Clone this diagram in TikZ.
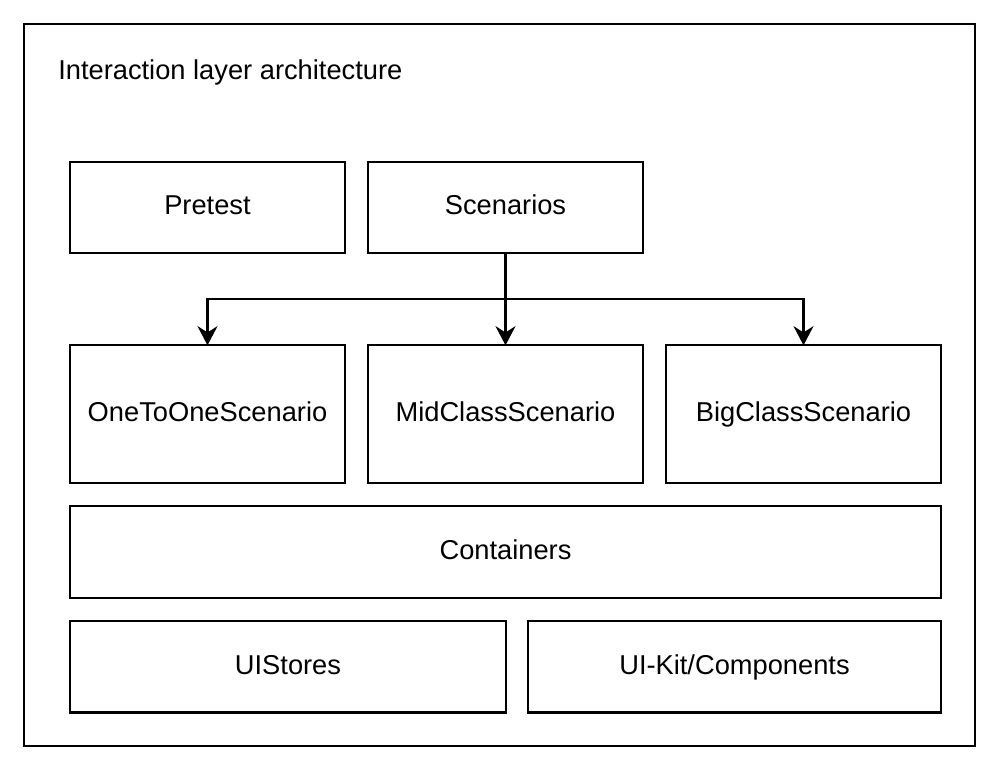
\documentclass[tikz,border=0pt]{standalone}
\usepackage{fontspec}
\setmainfont{Liberation Sans}
\usetikzlibrary{positioning,arrows.meta}

\tikzset{
  caja/.style={draw, line width=1.5pt, minimum width=6.875cm, minimum height=2.29cm,
    inner sep=0pt, outer sep=0pt, text height=1.05em, text depth=0em,
    font=\fontsize{19.4}{23}\selectfont},
  alta/.style={caja, minimum height=3.45cm},
  flecha/.style={line width=1.5pt, -{Stealth[length=0.48cm, width=0.5cm, inset=0.16cm]}}
}

\begin{document}
\begin{tikzpicture}
  \useasboundingbox (0,0) rectangle (25,-19.275);
  % Marco
  \draw[line width=1.5pt] (0.6,-0.6) rectangle (24.375,-18.65);
  \node[anchor=west, inner sep=0pt, font=\fontsize{19.4}{23}\selectfont] (titulo) at (1.45,-1.8) {Interaction layer architecture};

  % Nodos
  \node[caja] (pretest) at (5.1875,-5.1875) {Pretest};
  \node[caja] (scenarios) [right=0.575cm of pretest] {Scenarios};
  \node[alta] (onetoone) [below=2.3cm of pretest] {OneToOneScenario};
  \node[alta] (midclass) [right=0.575cm of onetoone] {MidClassScenario};
  \node[alta] (bigclass) [right=0.575cm of midclass] {BigClassScenario};
  \node[caja, minimum width=21.775cm] (containers) [below=0.575cm of onetoone.south west, anchor=north west] {Containers};
  \node[caja, minimum width=10.9cm] (uistores) [below=0.575cm of containers.south west, anchor=north west] {UIStores};
  \node[caja, minimum width=10.325cm] (uikit) [below=0.575cm of containers.south east, anchor=north east] {UI-Kit/Components};

  % Flechas
  \coordinate (rama) at ([yshift=-1.15cm]scenarios.south);
  \draw[flecha] (scenarios.south) -- (midclass.north);
  \draw[flecha] (rama) -| (onetoone.north);
  \draw[flecha] (rama) -| (bigclass.north);
\end{tikzpicture}
\end{document}
